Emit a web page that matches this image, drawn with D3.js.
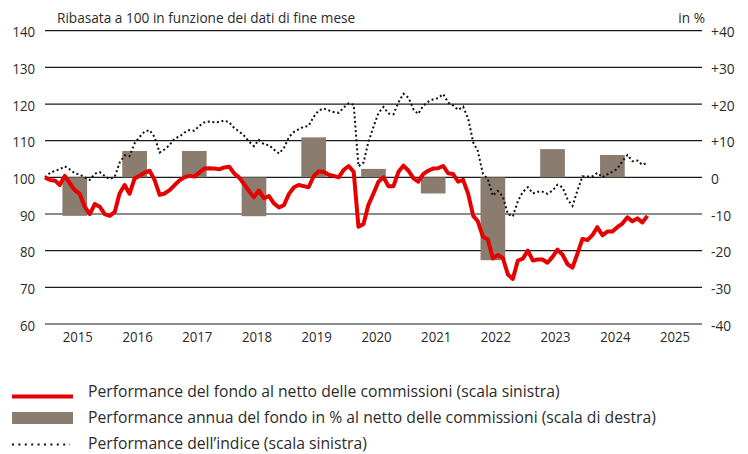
<!DOCTYPE html>
<html>
<head>
<meta charset="utf-8">
<script src="https://cdn.jsdelivr.net/npm/d3@7/dist/d3.min.js"></script>
<style>
  body { margin: 0; background: #fff; }
  svg text { font-family: "Open Sans", sans-serif; fill: #2b2b2b; }
</style>
</head>
<body>
<div id="chart"></div>
<script>
// monthly values, end of month, Dec 2014 .. Jan 2025
const startMonth = new Date(2014, 11, 31);
const fundValues = [
  100, 99.3, 99.1, 97.9, 100.4, 98.4, 96.5, 95.5, 92, 90, 92.7, 92, 90,
  89.5, 90.6, 95.6, 97.9, 95.5, 99.7, 100.4, 101.3, 101.8, 99.3, 95.2, 95.6,
  96.5, 97.9, 99.1, 100, 100.4, 100.2, 101.3, 102.4, 102.5, 102.4, 102.2, 102.7,
  102.9, 101, 100, 98.2, 96.3, 94.6, 96.4, 94.3, 94.9, 92.9, 91.8, 92.4,
  95.5, 97.3, 97.9, 97.6, 97.3, 100.3, 101.6, 101.5, 100.7, 100.4, 100, 102,
  103.1, 101.5, 86.5, 87.3, 92.5, 95.6, 98.8, 100, 97.6, 97.6, 101.5, 103.2,
  101.8, 99.7, 98.8, 100.9, 101.8, 102.4, 102.5, 103.1, 101.1, 100.9, 98.8, 99.3,
  95.5, 89.5, 88, 83.8, 83.1, 77.9, 78.8, 78, 73.5, 72.3, 77.3, 77.8,
  80, 77.3, 77.6, 77.6, 76.7, 78.3, 80.3, 78.9, 76.3, 75.4, 79.3, 83.2,
  82.9, 84.3, 86.4, 84.2, 85.2, 85.2, 86.4, 87.4, 89.1, 88, 88.8, 87.7,
  89.5
];
const indexValues = [
  100, 101.2, 101.8, 102.2, 103, 102.2, 101.1, 100.8, 100, 99.3, 101, 101.4, 100.4,
  99.5, 100.2, 104, 106, 105.8, 109.3, 111, 112.5, 112.9, 111, 106.8, 107.6,
  108.8, 110.6, 111.1, 112.2, 112.9, 112.7, 114, 115, 115.2, 115, 115.1, 115.5,
  115, 113.4, 112.6, 111.4, 109.8, 108.5, 110.2, 109, 108.8, 107.6, 106.5, 108,
  111, 112.4, 113.1, 113.8, 114, 116.5, 118.2, 118.8, 118.3, 117.8, 117.6, 119,
  120.2, 119.8, 103, 104, 109.7, 113.8, 117.5, 119.2, 117.4, 117.2, 120.5, 122.8,
  121.7, 118.5, 117.3, 119.5, 120.6, 121.3, 121.6, 122.7, 120.4, 119.6, 118.4, 119.3,
  116, 109.5, 107.2, 101, 99.5, 95, 96.3, 94.8, 90, 89.3, 93.5, 96,
  97.3, 95.6, 96.1, 96.1, 95.5, 96.4, 98, 97.3, 94, 92.2, 96.5, 100.3,
  100.2, 100.3, 101.2, 100, 100.8, 101.5, 102.3, 104.4, 106.1, 104.4, 104.6, 103.4,
  104
];
const barYears = [2015, 2016, 2017, 2018, 2019, 2020, 2021, 2022, 2023, 2024];
const barValues = [-10.5, 7.2, 7.2, -10.6, 10.9, 2.3, -4.4, -22.6, 7.7, 6.1];
const yearLabels = [2015, 2016, 2017, 2018, 2019, 2020, 2021, 2022, 2023, 2024, 2025];
const leftTicks = [60, 70, 80, 90, 100, 110, 120, 130, 140];
const rightTicks = [-40, -30, -20, -10, 0, 10, 20, 30, 40];
const legendLabels = [
  "Performance del fondo al netto delle commissioni (scala sinistra)",
  "Performance annua del fondo in % al netto delle commissioni (scala di destra)",
  "Performance dell\u2019indice (scala sinistra)"
];

const width = 748, height = 454;
const red = "#e60000", barColor = "#8a7c6e";

const svg = d3.select("#chart").append("svg")
    .attr("width", width).attr("height", height);

const x = d3.scaleTime()
    .domain([startMonth, new Date(2025, 11, 31)])
    .range([45, 702]);
const yL = d3.scaleLinear().domain([60, 140]).range([324, 30.7]);
const yR = d3.scaleLinear().domain([-40, 40]).range([324, 30.7]);

//text with a slight horizontal squeeze, like the original
function label(g, px, py, str, size, anchor, sx) {
  return g.append("g")
      .attr("transform", `translate(${px},${py}) scale(${sx || 1},1)`)
      .append("text")
      .attr("font-size", size)
      .attr("text-anchor", anchor || "start")
      .text(str);
}

//grid
svg.append("g").selectAll("line").data(leftTicks).join("line")
    .attr("x1", x.range()[0]).attr("x2", x.range()[1])
    .attr("y1", (d) => yL(d)).attr("y2", (d) => yL(d))
    .attr("stroke", "#1a1a1a").attr("stroke-width", 1.2);

//axes labels
const gAxis = svg.append("g");
leftTicks.forEach((d) => label(gAxis, 35, yL(d) + 6.5, d, 15, "end", 0.88));
rightTicks.forEach((d) =>
  label(gAxis, 711, yR(d) + 6.5, d > 0 ? "+" + d : d, 15, "start", 0.92));
yearLabels.forEach((yr) => {
  const mid = x(new Date(yr, 6, 1)) + 3;
  label(gAxis, mid, 341.5, yr, 15, "middle", 0.88);
});
label(gAxis, 57, 22.5, "Ribasata a 100 in funzione dei dati di fine mese", 14, "start", 0.975);
label(gAxis, 705, 22.5, "in %", 14, "end", 0.975);

//bars
const barW = 24.7;
svg.append("g").selectAll("rect").data(barYears).join("rect")
    .attr("x", (d) => x(new Date(d, 6, 1)) - barW / 2)
    .attr("width", barW)
    .attr("y", (d, i) => yR(Math.max(0, barValues[i])))
    .attr("height", (d, i) => Math.abs(yR(barValues[i]) - yR(0)))
    .attr("fill", barColor);

//lines
const months = fundValues.map((d, i) => d3.timeMonth.offset(startMonth, i));
const line = (vals) => d3.line()
    .x((d, i) => x(months[i]))
    .y((d) => yL(d))(vals);

svg.append("path")
    .attr("d", line(indexValues))
    .attr("fill", "none").attr("stroke", "#111")
    .attr("stroke-width", 2).attr("stroke-dasharray", "2,2.6");

svg.append("path")
    .attr("d", line(fundValues))
    .attr("fill", "none").attr("stroke", red)
    .attr("stroke-width", 4).attr("stroke-linejoin", "round");

//legend
const gLeg = svg.append("g");
gLeg.append("line").attr("x1", 12).attr("x2", 73).attr("y1", 396.5).attr("y2", 396.5)
    .attr("stroke", red).attr("stroke-width", 4);
gLeg.append("rect").attr("x", 12).attr("y", 412).attr("width", 61).attr("height", 12)
    .attr("fill", barColor);
gLeg.append("line").attr("x1", 12).attr("x2", 70).attr("y1", 444.5).attr("y2", 444.5)
    .attr("stroke", "#111").attr("stroke-width", 2).attr("stroke-dasharray", "2,4.4");
legendLabels.forEach((s, i) => label(gLeg, 88, 397 + i * 26, s, 17, "start", 0.925));
</script>
</body>
</html>
